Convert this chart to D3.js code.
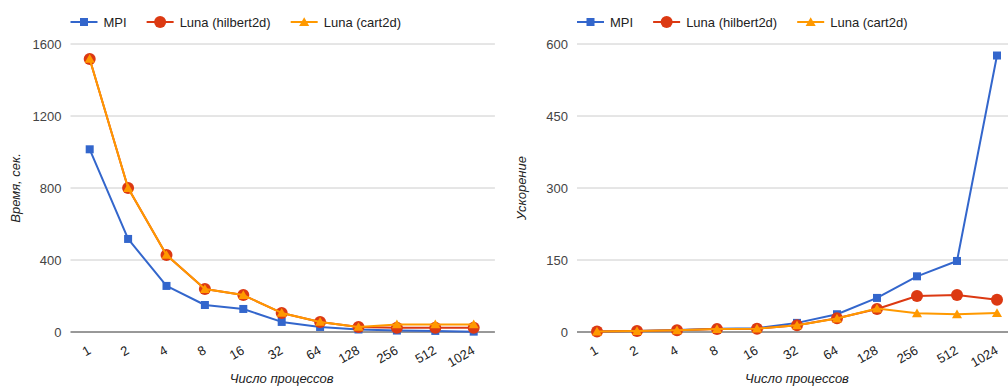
<!DOCTYPE html>
<html>
<head>
<meta charset="utf-8">
<script src="https://cdn.jsdelivr.net/npm/d3@7"></script>
<style>
  html, body { margin: 0; padding: 0; background: #fff; }
  svg { display: block; font-family: "Liberation Sans", Arial, sans-serif; }
</style>
</head>
<body>
<svg id="chart" width="1008" height="388"></svg>
<script>
// Process counts (x categories)
const processes = ["1", "2", "4", "8", "16", "32", "64", "128", "256", "512", "1024"];

// Execution time, seconds
const timeMPI     = [1015, 517, 256, 150, 128, 56, 28, 14, 8, 6, 2];
const timeHilbert = [1517, 800, 428, 239, 205, 106, 56, 28, 24, 24, 24];
const timeCart    = [1517, 800, 428, 239, 205, 106, 56, 28, 42, 42, 42];

// Speedup
const speedMPI     = [1, 2, 4, 7, 8, 19, 37, 71, 116, 148, 576];
const speedHilbert = [1, 2, 3.5, 6, 7, 14, 28.5, 48, 75, 77, 67];
const speedCart    = [1, 2, 3.5, 6, 7, 14, 28, 49, 39, 37, 39.5];

const timeTicks  = [0, 400, 800, 1200, 1600];
const speedTicks = [0, 150, 300, 450, 600];

const seriesNames  = ["MPI", "Luna (hilbert2d)", "Luna (cart2d)"];
const seriesColors = ["#3366cc", "#dc3912", "#ff9900"];
const seriesShapes = ["square", "circle", "triangle"];

const svg = d3.select("#chart");

function drawMarker(g, shape, color, x, y, scale = 1) {
  if (shape === "square") {
    g.append("rect")
      .attr("x", x - 4 * scale).attr("y", y - 4 * scale)
      .attr("width", 8 * scale).attr("height", 8 * scale)
      .attr("fill", color);
  } else if (shape === "circle") {
    g.append("circle").attr("cx", x).attr("cy", y).attr("r", 6 * scale).attr("fill", color);
  } else {
    g.append("path")
      .attr("d", d3.symbol(d3.symbolTriangle, 44 * scale * scale)())
      .attr("transform", `translate(${x},${y + 1})`)
      .attr("fill", color);
  }
}

function drawPanel(opts) {
  const { left, bandW, top, bottom, yMax, ticks, series, yTitle, yTitleX, clipRight } = opts;
  const right = left + bandW * processes.length;
  const g = svg.append("g");

  const x = d3.scaleBand().domain(processes).range([left, right]);
  const y = d3.scaleLinear().domain([0, yMax]).range([bottom, top]);

  // gridlines
  g.append("g").selectAll("line").data(ticks.filter(t => t !== 0)).join("line")
    .attr("x1", left).attr("x2", Math.min(right + 2, clipRight))
    .attr("y1", d => y(d)).attr("y2", d => y(d))
    .attr("stroke", "#cccccc").attr("stroke-width", 1);

  // y axis labels
  const yAxis = d3.axisLeft(y).tickValues(ticks).tickFormat(d3.format("d")).tickSize(0).tickPadding(0);
  const ya = g.append("g").attr("transform", `translate(${left - 9},0)`).call(yAxis);
  ya.select(".domain").remove();
  ya.selectAll("text").attr("font-size", 13).attr("fill", "#444").attr("font-family", null).attr("dy", "0.35em");

  // baseline
  g.append("line")
    .attr("x1", left).attr("x2", Math.min(right + 2, clipRight))
    .attr("y1", y(0)).attr("y2", y(0))
    .attr("stroke", "#333").attr("stroke-width", 1);

  // x axis labels, slanted
  const xa = g.append("g").attr("transform", `translate(0,${bottom})`)
    .call(d3.axisBottom(x).tickSize(0).tickPadding(0));
  xa.select(".domain").remove();
  xa.selectAll(".tick text")
    .attr("font-size", 13).attr("fill", "#222").attr("font-family", null)
    .attr("text-anchor", "end")
    .attr("dy", null).attr("y", 0)
    .attr("transform", "translate(2,21) rotate(-30)");

  // axis titles
  g.append("text")
    .attr("x", (left + right) / 2).attr("y", 383)
    .attr("text-anchor", "middle").attr("font-size", 13).attr("font-style", "italic").attr("fill", "#222")
    .text("Число процессов");
  g.append("text")
    .attr("transform", `translate(${yTitleX},${(top + bottom) / 2}) rotate(-90)`)
    .attr("text-anchor", "middle").attr("font-size", 13).attr("font-style", "italic").attr("fill", "#222")
    .text(yTitle);

  // series
  const line = d3.line().x((d, i) => x(processes[i]) + x.bandwidth() / 2).y(d => y(d));
  series.forEach((vals, si) => {
    const sg = g.append("g");
    sg.append("path").datum(vals).attr("d", line)
      .attr("fill", "none").attr("stroke", seriesColors[si]).attr("stroke-width", 2)
      .attr("stroke-linejoin", "round");
    vals.forEach((v, i) => drawMarker(sg, seriesShapes[si], seriesColors[si], x(processes[i]) + x.bandwidth() / 2, y(v)));
  });

  // legend
  const lg = g.append("g");
  let lx = left;
  const ly = 22;
  seriesNames.forEach((name, si) => {
    lg.append("line").attr("x1", lx).attr("x2", lx + 27).attr("y1", ly).attr("y2", ly)
      .attr("stroke", seriesColors[si]).attr("stroke-width", 2);
    drawMarker(lg, seriesShapes[si], seriesColors[si], lx + 13.5, ly);
    const t = lg.append("text").attr("x", lx + 33).attr("y", ly).attr("dy", "0.35em")
      .attr("font-size", 13).attr("fill", "#222").text(name);
    lx += 33 + t.node().getComputedTextLength() + 20;
  });
}

drawPanel({
  left: 70.5, bandW: 38.4, top: 44, bottom: 332, yMax: 1600, ticks: timeTicks,
  series: [timeMPI, timeHilbert, timeCart], yTitle: "Время, сек.", yTitleX: 20, clipRight: 1008
});
drawPanel({
  left: 577, bandW: 40, top: 44, bottom: 332, yMax: 600, ticks: speedTicks,
  series: [speedMPI, speedHilbert, speedCart], yTitle: "Ускорение", yTitleX: 526, clipRight: 1008
});
</script>
</body>
</html>
